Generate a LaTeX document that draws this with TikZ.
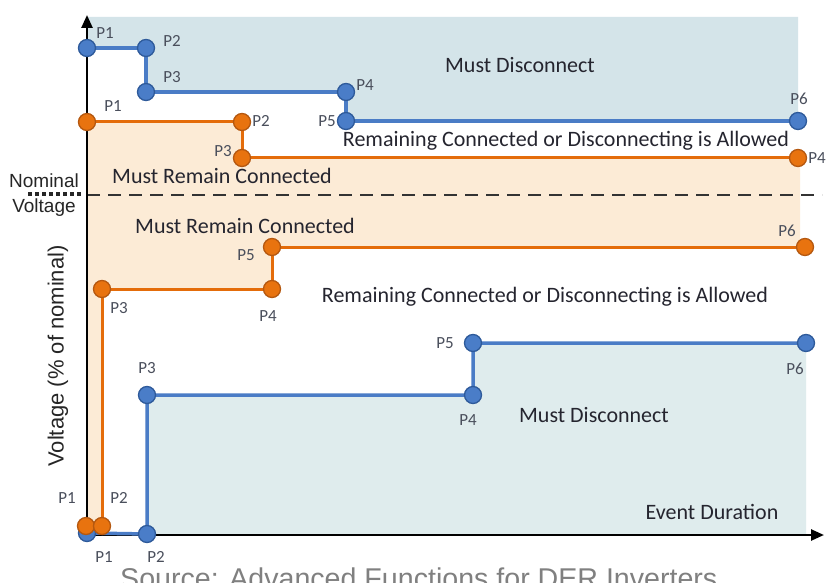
\documentclass[tikz,border=0pt]{standalone}
\usepackage{fontspec}
\setmainfont{Carlito}
\newfontfamily\arialf{Liberation Sans}
\usetikzlibrary{arrows.meta}
\definecolor{bluefillA}{HTML}{D4E4E9}
\definecolor{bluefillB}{HTML}{DFECED}
\definecolor{peach}{HTML}{FCEBD6}
\definecolor{bline}{HTML}{4A7CC6}
\definecolor{bdot}{HTML}{4A7DC8}
\definecolor{bdotedge}{HTML}{2E5A9A}
\definecolor{oline}{HTML}{E46C0A}
\definecolor{odot}{HTML}{E8730F}
\definecolor{odotedge}{HTML}{B55810}
\definecolor{lbl}{HTML}{4A4F5C}
\definecolor{txt}{HTML}{25252F}
\tikzset{
  bdotn/.style={circle,fill=bdot,draw=bdotedge,line width=1.3pt,minimum size=17pt,inner sep=0pt},
  odotn/.style={circle,fill=odot,draw=odotedge,line width=1.3pt,minimum size=17pt,inner sep=0pt},
  bluepath/.style={draw=bline,line width=3.5pt},
  orangepath/.style={draw=oline,line width=3pt},
  plbl/.style={text=lbl,font=\fontsize{17}{19}\selectfont,inner sep=0pt},
  region/.style={text=txt,font=\fontsize{22}{26}\selectfont,inner sep=0pt},
  axis/.style={draw=black,line width=2.5pt,-{Triangle[length=13pt,width=11pt]}},
}
\begin{document}
\begin{tikzpicture}[x=1pt,y=-1pt]
\useasboundingbox (0,0) rectangle (836,583);
\fill[white] (0,0) rectangle (836,583);
% coordinates
\coordinate (b1) at (87,48);
\coordinate (b2) at (146,48);
\coordinate (b3) at (146,92);
\coordinate (b4) at (346,92);
\coordinate (b5) at (346,121);
\coordinate (b6) at (798,121);
\coordinate (o1) at (87,122);
\coordinate (o2) at (242,122);
\coordinate (o3) at (242,158);
\coordinate (o4) at (798,158);
\coordinate (q1) at (86,526);
\coordinate (q2) at (102,526);
\coordinate (q3) at (102,289);
\coordinate (q4) at (272,289);
\coordinate (q5) at (272,247);
\coordinate (q6) at (805,247);
\coordinate (c1) at (87,533);
\coordinate (c2) at (147,534);
\coordinate (c3) at (147,395);
\coordinate (c4) at (473,395);
\coordinate (c5) at (473,343);
\coordinate (c6) at (806,343);
\coordinate (yb) at (87,536);
\coordinate (yt) at (87,15);
\coordinate (xe) at (824,535);
% fills
\fill[bluefillA] (87,17) -- (798,17) -- (b6) -- (b5) -- (b4) -- (b3) -- (b2) -- (b1) -- cycle;
\fill[peach] (o1) -- (o2) -- (o3) -- (800,158) -- (800,247) -- (q5) -- (q4) -- (q3) -- (q2) -- (87,526) -- cycle;
\fill[bluefillB] (c3) -- (c4) -- (c5) -- (c6) -- (806,535) -- (147,535) -- cycle;
% nominal line
\draw[line width=2.5pt,draw=black!80,dash pattern=on 13pt off 8pt] (87,195) -- (822,195);
\draw[line width=3.5pt,draw=black!85,dash pattern=on 3.5pt off 3.5pt] (28,194) -- (83,194);
% axes
\draw[axis] (yb) -- (yt);
\draw[axis] (86,535) -- (xe);
% paths
\draw[bluepath] (b1) -- (b2) -- (b3) -- (b4) -- (b5) -- (b6);
\draw[orangepath] (o1) -- (o2) -- (o3) -- (o4);
\draw[bluepath] (c1) -- (c2) -- (c3) -- (c4) -- (c5) -- (c6);
\draw[orangepath] (q1) -- (q2) -- (q3) -- (q4) -- (q5) -- (q6);
% dots
\foreach \n in {b1,b2,b3,b4,b5,b6,c1,c2,c3,c4,c5,c6}{\node[bdotn] (d\n) at (\n) {};}
\foreach \n in {o1,o2,o3,o4,q1,q2,q3,q4,q5,q6}{\node[odotn] (d\n) at (\n) {};}
% point labels
\node[plbl] (lb1) at (105,33) {P1};
\node[plbl] (lb2) at (172,41) {P2};
\node[plbl] (lb3) at (172,77) {P3};
\node[plbl] (lb4) at (365,85) {P4};
\node[plbl] (lb5) at (327,121) {P5};
\node[plbl] (lb6) at (799,99) {P6};
\node[plbl] (lo1) at (113,106) {P1};
\node[plbl] (lo2) at (261,121) {P2};
\node[plbl] (lo3) at (223,151) {P3};
\node[plbl] (lo4) at (817,158) {P4};
\node[plbl] (lq5) at (246,255) {P5};
\node[plbl] (lq3) at (119,308) {P3};
\node[plbl] (lq4) at (268,316) {P4};
\node[plbl] (lq6) at (787,231) {P6};
\node[plbl] (lq1) at (67,498) {P1};
\node[plbl] (lq2) at (119,498) {P2};
\node[plbl] (lc1) at (104,557) {P1};
\node[plbl] (lc2) at (156,557) {P2};
\node[plbl] (lc3) at (147,368) {P3};
\node[plbl] (lc4) at (468,420) {P4};
\node[plbl] (lc5) at (445,343) {P5};
\node[plbl] (lc6) at (795,369) {P6};
% region labels
\node[region] (r1) at (520,65) {Must Disconnect};
\node[region] (r2) at (566,141) {Remaining Connected or Disconnecting is Allowed};
\node[region] (r3) at (222,176) {Must Remain Connected};
\node[region] (r4) at (245,226) {Must Remain Connected};
\node[region] (r5) at (545,297) {Remaining Connected or Disconnecting is Allowed};
\node[region] (r6) at (594,415) {Must Disconnect};
\node[region] (r7) at (712,512) {Event Duration};
% axis labels
\node[text=black!85,font=\arialf\fontsize{19}{21}\selectfont,inner sep=0pt] (nom) at (44,181) {Nominal};
\node[text=black!85,font=\arialf\fontsize{19}{21}\selectfont,inner sep=0pt] (vol) at (44,208) {Voltage};
\node[text=black!85,font=\arialf\fontsize{22}{24}\selectfont,inner sep=0pt,rotate=90] (ylab) at (58,356) {Voltage (\% of nominal)};
\node[text=black!50,font=\arialf\fontsize{28.6}{30}\selectfont,inner sep=0pt,anchor=base west] (src) at (120,588) {Source: Advanced Functions for DER Inverters};
\end{tikzpicture}
\end{document}
